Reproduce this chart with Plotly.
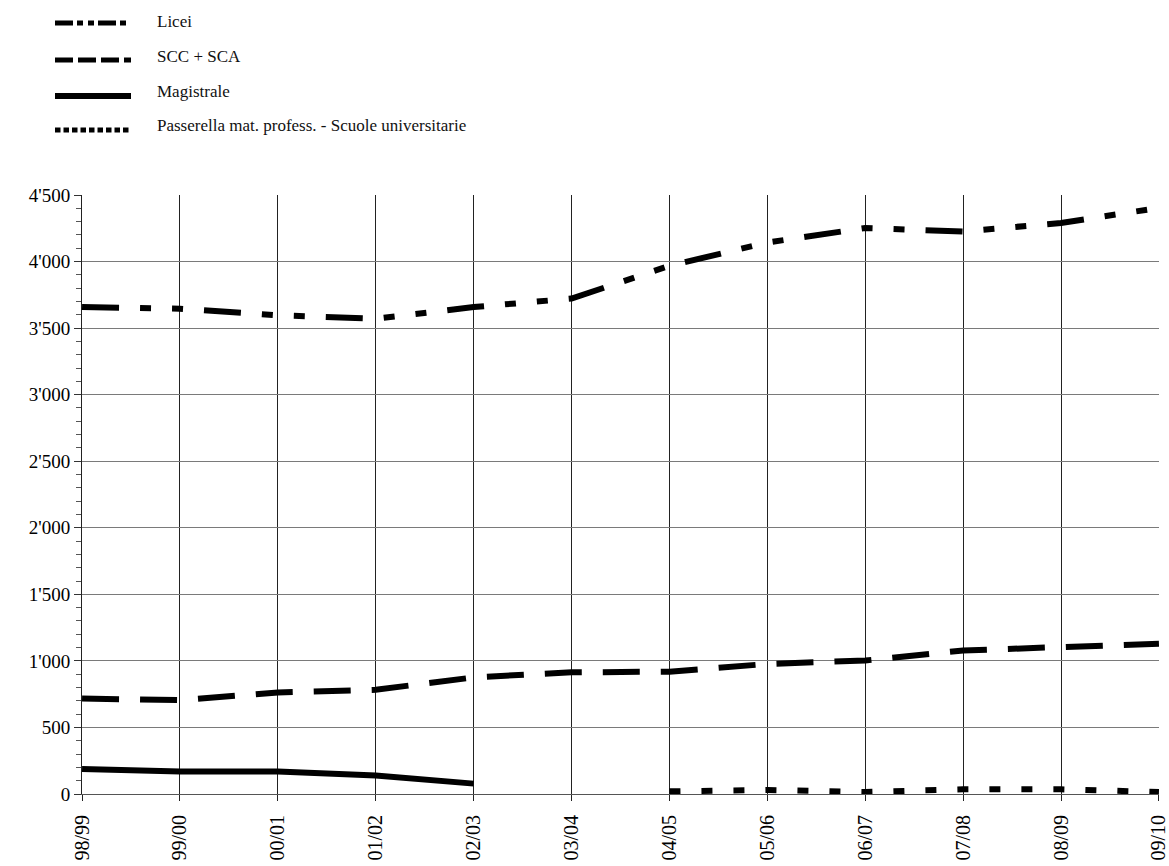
import plotly.graph_objects as go

years = ["98/99", "99/00", "00/01", "01/02", "02/03", "03/04",
         "04/05", "05/06", "06/07", "07/08", "08/09", "09/10"]
licei = [3658, 3646, 3596, 3571, 3658, 3722, 3968, 4143, 4252, 4226, 4290, 4403]
scc_sca = [717, 705, 763, 783, 876, 914, 919, 977, 1003, 1078, 1104, 1129]
magistrale = [187, 169, 169, 139, 78, None, None, None, None, None, None, None]
passerella = [None, None, None, None, None, None, 20, 30, 15, 35, 35, 15]

y_tickvals = [0, 500, 1000, 1500, 2000, 2500, 3000, 3500, 4000, 4500]
y_ticktext = ["0", "500", "1'000", "1'500", "2'000", "2'500", "3'000", "3'500", "4'000", "4'500"]

W, H = 1169, 866
L, R, T, B = 82, 10, 195, 72
PW, PH = W - L - R, H - T - B

SERIF = "Liberation Serif, Times New Roman, DejaVu Serif, serif"
xs = list(range(len(years)))

series = [
    ("Licei", licei, "37px,21px,11px,21px,11px,21px", "18px,4px,6px,5px,6px,4px"),
    ("SCC + SCA", scc_sca, "37px,21px", "18px,5px"),
    ("Magistrale", magistrale, "solid", "solid"),
    ("Passerella mat. profess. - Scuole universitarie", passerella, "11px,21px", "5.5px,3px"),
]

fig = go.Figure()
for name, vals, dash, _ in series:
    fig.add_trace(go.Scatter(
        x=xs, y=vals, name=name, mode="lines",
        line=dict(color="black", width=6, dash=dash),
        connectgaps=False, showlegend=False, cliponaxis=False,
    ))

def px2x(px):
    return (px - L) / PW

def py2y(py):
    return (H - B - py) / PH

shapes = []
annotations = []
legend_line_y = [23, 60, 96, 130]
legend_text_y = [21, 56, 91, 125]
for (name, _, _, ldash), ly, ty in zip(series, legend_line_y, legend_text_y):
    shapes.append(dict(
        type="line", xref="paper", yref="paper",
        x0=px2x(55), x1=px2x(131), y0=py2y(ly), y1=py2y(ly),
        line=dict(color="black", width=5 if ldash != "solid" else 6, dash=ldash),
    ))
    annotations.append(dict(
        xref="paper", yref="paper", x=px2x(155), y=py2y(ty),
        text=name, showarrow=False, xanchor="left", yanchor="middle",
        font=dict(family=SERIF, size=17, color="#111111"),
    ))

fig.update_layout(
    width=W, height=H,
    margin=dict(l=L, r=R, t=T, b=B, pad=0, autoexpand=False),
    paper_bgcolor="white", plot_bgcolor="white",
    showlegend=False,
    shapes=shapes, annotations=annotations,
    font=dict(family=SERIF, color="black"),
)
fig.update_xaxes(
    range=[-0.0005, len(years) - 1 + 0.0005],
    tickmode="array", tickvals=xs, ticktext=years,
    tickangle=-90, tickfont=dict(family=SERIF, size=20, color="black"),
    ticklabeloverflow="allow", ticklabelstandoff=6,
    showgrid=True, gridcolor="#222222", gridwidth=1,
    ticks="outside", ticklen=6, tickcolor="#222222",
    showline=True, linecolor="#555555", linewidth=1,
    zeroline=False, automargin=False,
)
fig.update_yaxes(
    range=[0, 4500],
    tickmode="array", tickvals=y_tickvals, ticktext=y_ticktext,
    tickfont=dict(family=SERIF, size=19, color="black"),
    showgrid=True, gridcolor="#7a7a7a", gridwidth=1,
    ticks="outside", ticklen=7, tickcolor="#333333",
    minor=dict(dtick=100, ticks="outside", ticklen=5, tickcolor="#555555", showgrid=False),
    showline=True, linecolor="#222222", linewidth=1,
    zeroline=False, automargin=False,
)

fig.write_html("out.html", config={"displayModeBar": False},
               post_script="document.body.style.margin='0';document.body.style.padding='0';")
